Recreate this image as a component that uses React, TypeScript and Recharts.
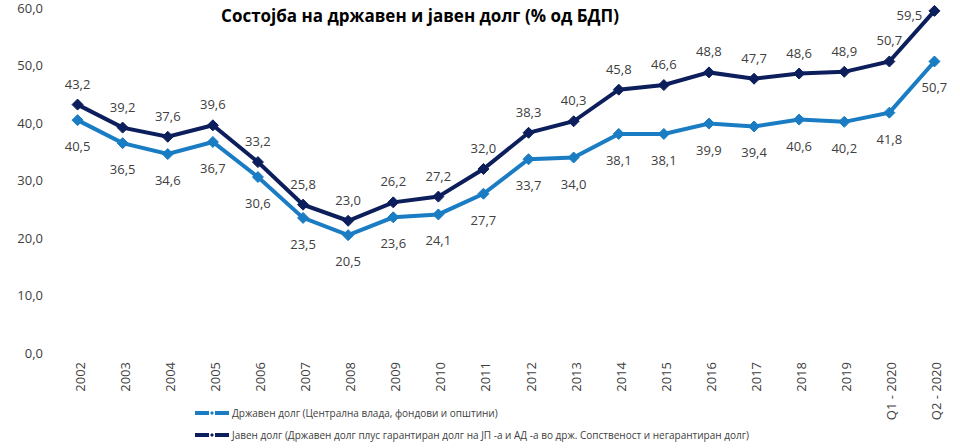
import React from 'react';
import { LineChart, Line, XAxis, YAxis, Legend, LabelList } from 'recharts';

const categories = ['2002', '2003', '2004', '2005', '2006', '2007', '2008', '2009', '2010', '2011', '2012', '2013', '2014', '2015', '2016', '2017', '2018', '2019', 'Q1 - 2020', 'Q2 - 2020'];
const stateDebt = [40.5, 36.5, 34.6, 36.7, 30.6, 23.5, 20.5, 23.6, 24.1, 27.7, 33.7, 34.0, 38.1, 38.1, 39.9, 39.4, 40.6, 40.2, 41.8, 50.7];
const publicDebt = [43.2, 39.2, 37.6, 39.6, 33.2, 25.8, 23.0, 26.2, 27.2, 32.0, 38.3, 40.3, 45.8, 46.6, 48.8, 47.7, 48.6, 48.9, 50.7, 59.5];
const yTicks = [0, 10, 20, 30, 40, 50, 60];
const labelTicks = categories.map((_, i) => i + 0.5);
const boundaryTicks = [...categories.map((_, i) => i), categories.length];

const title = 'Состојба на државен и јавен долг (% од БДП)';
const stateName = 'Државен долг (Централна влада, фондови и општини)';
const publicName = 'Јавен долг (Државен долг плус гарантиран долг на ЈП -а и АД -а во држ. Сопственост и негарантиран долг)';

const LIGHT = '#1a7cc3';
const DARK = '#0c1f5c';
const FONT = '"Open Sans", "Noto Sans", sans-serif';
const TEXT = '#404040';

const data = categories.map((c, i) => ({ x: i + 0.5, cat: c, state: stateDebt[i], pub: publicDebt[i] }));

const fmt = (v: number) => v.toFixed(1).replace('.', ',');

const Diamond = (color: string) => (props: any) => {
  const { cx, cy, index } = props;
  if (cx == null || cy == null) return <g key={index} />;
  const s = 5.5;
  return (
    <polygon
      key={index}
      points={`${cx},${cy - s} ${cx + s},${cy} ${cx},${cy + s} ${cx - s},${cy}`}
      fill={color}
      stroke={color}
      strokeWidth={1}
    />
  );
};

const darkLabel = (props: any) => {
  const { x, y, value, index } = props;
  const last = index === categories.length - 1;
  const tx = last ? x - 25 : x;
  const ty = last ? y + 4 : y - 21;
  return (
    <text key={index} x={tx} y={ty} textAnchor="middle" dominantBaseline="central" fontSize={13} fill={TEXT} fontFamily={FONT}>
      {fmt(value)}
    </text>
  );
};

const lightLabel = (props: any) => {
  const { x, y, value, index } = props;
  return (
    <text key={index} x={x} y={y + 26} textAnchor="middle" dominantBaseline="central" fontSize={13} fill={TEXT} fontFamily={FONT}>
      {fmt(value)}
    </text>
  );
};

const CatTick = (props: any) => {
  const { x, y, payload } = props;
  const label = categories[Math.floor(payload.value)];
  return (
    <text
      x={x + 2}
      y={y}
      transform={`rotate(-90, ${x + 2}, ${y})`}
      textAnchor="end"
      dominantBaseline="central"
      fontSize={13}
      fill={TEXT}
      fontFamily={FONT}
    >
      {label}
    </text>
  );
};

const LegendIcon = ({ color }: { color: string }) => (
  <svg width={34} height={10} style={{ marginRight: 3, flex: 'none' }}>
    <line x1={0} y1={5} x2={34} y2={5} stroke={color} strokeWidth={4} />
    <line x1={14} y1={5} x2={20} y2={5} stroke="#ffffff" strokeWidth={4} />
    <polygon points="17,3 19,5 17,7 15,5" fill={color} />
  </svg>
);

const LegendContent = () => (
  <div style={{ paddingLeft: 195, paddingTop: 2, fontFamily: FONT, fontSize: 10, color: TEXT, lineHeight: '22px' }}>
    <div style={{ display: 'flex', alignItems: 'center', height: 22 }}>
      <LegendIcon color={LIGHT} />
      <span>{stateName}</span>
    </div>
    <div style={{ display: 'flex', alignItems: 'center', height: 22 }}>
      <LegendIcon color={DARK} />
      <span>{publicName}</span>
    </div>
  </div>
);

export default function App() {
  return (
    <div style={{ position: 'absolute', left: 0, top: 0, width: 960, height: 448, background: '#ffffff' }}>
      <div
        style={{
          position: 'absolute',
          left: 0,
          width: 840,
          top: 4,
          textAlign: 'center',
          fontFamily: FONT,
          fontWeight: 700,
          fontSize: 17,
          color: '#000000',
          zIndex: 2,
        }}
      >
        {title}
      </div>
      <LineChart width={960} height={448} data={data} margin={{ top: 8, right: 3, bottom: 0, left: 8 }}>
        <XAxis
          xAxisId="grid"
          type="number"
          dataKey="x"
          domain={[0, categories.length]}
          ticks={boundaryTicks}
          tick={false}
          height={0}
          axisLine={{ stroke: '#d9d9d9' }}
          tickLine={{ stroke: '#d9d9d9' }}
          tickSize={4}
          allowDataOverflow
        />
        <XAxis
          xAxisId="lab"
          type="number"
          dataKey="x"
          domain={[0, categories.length]}
          ticks={labelTicks}
          interval={0}
          tick={<CatTick />}
          axisLine={false}
          tickLine={false}
          tickSize={0}
          tickMargin={9}
          height={47}
          allowDataOverflow
        />
        <YAxis
          domain={[0, 60]}
          ticks={yTicks}
          tickFormatter={fmt}
          axisLine={false}
          tickLine={false}
          width={47}
          tickMargin={6}
          tick={{ fontSize: 13, fill: TEXT, fontFamily: FONT }}
        />
        <Legend verticalAlign="bottom" height={48} content={<LegendContent />} wrapperStyle={{ left: 0, width: 960 }} />
        <Line
          xAxisId="lab"
          type="linear"
          dataKey="state"
          name={stateName}
          stroke={LIGHT}
          strokeWidth={4}
          dot={Diamond(LIGHT)}
          activeDot={false}
          isAnimationActive={false}
        >
          <LabelList dataKey="state" content={lightLabel} />
        </Line>
        <Line
          xAxisId="lab"
          type="linear"
          dataKey="pub"
          name={publicName}
          stroke={DARK}
          strokeWidth={4}
          dot={Diamond(DARK)}
          activeDot={false}
          isAnimationActive={false}
        >
          <LabelList dataKey="pub" content={darkLabel} />
        </Line>
      </LineChart>
    </div>
  );
}
